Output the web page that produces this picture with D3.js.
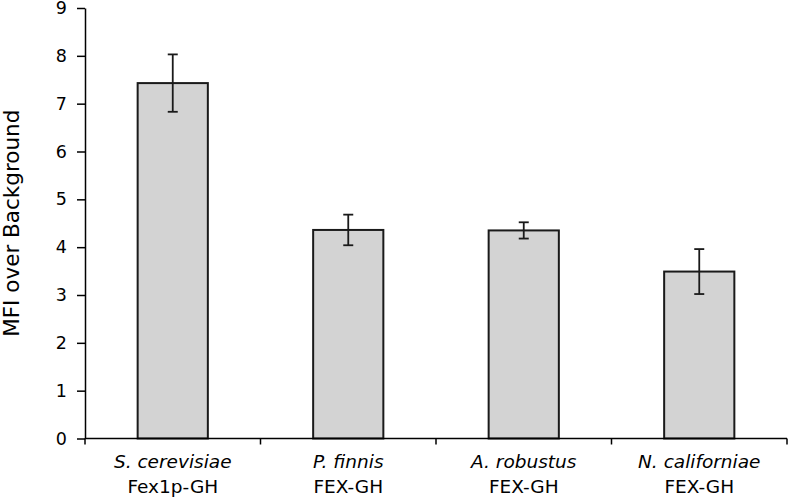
<!DOCTYPE html>
<html>
<head>
<meta charset="utf-8">
<script src="https://d3js.org/d3.v7.min.js"></script>
<style>
html, body { margin: 0; padding: 0; background: #fff; }
svg { display: block; }
text { font-family: "DejaVu Sans", Verdana, sans-serif; fill: #000; }
</style>
</head>
<body>
<svg id="chart" width="792" height="498"></svg>
<script>
const species = ["S. cerevisiae", "P. finnis", "A. robustus", "N. californiae"];
const constructs = ["Fex1p-GH", "FEX-GH", "FEX-GH", "FEX-GH"];
const values = [7.43, 4.36, 4.35, 3.49];
const errors = [0.60, 0.32, 0.17, 0.47];
const yTicks = [0, 1, 2, 3, 4, 5, 6, 7, 8, 9];
const yTitle = "MFI over Background";

const svg = d3.select("#chart");
const margin = { left: 85, right: 5, top: 8, bottom: 59.5 };
const W = 792, H = 498;

const x = d3.scaleBand().domain(d3.range(species.length))
  .range([margin.left, W - margin.right]).paddingInner(0.6).paddingOuter(0.3);
const band = d3.scaleBand().domain(d3.range(species.length))
  .range([margin.left, W - margin.right]).padding(0);
const y = d3.scaleLinear().domain([0, 9]).range([H - margin.bottom, margin.top]);

// bars
svg.append("g").selectAll("rect").data(values).join("rect")
  .attr("x", (d, i) => x(i))
  .attr("y", d => y(d))
  .attr("width", x.bandwidth())
  .attr("height", d => y(0) - y(d))
  .attr("fill", "#d3d3d3")
  .attr("stroke", "#1a1a1a")
  .attr("stroke-width", 2);

// error bars
const eb = svg.append("g").attr("stroke", "#1a1a1a").attr("stroke-width", 1.8);
values.forEach((v, i) => {
  const cx = x(i) + x.bandwidth() / 2;
  eb.append("line").attr("x1", cx).attr("x2", cx).attr("y1", y(v + errors[i])).attr("y2", y(v - errors[i]));
  eb.append("line").attr("x1", cx - 5).attr("x2", cx + 5).attr("y1", y(v + errors[i])).attr("y2", y(v + errors[i]));
  eb.append("line").attr("x1", cx - 5).attr("x2", cx + 5).attr("y1", y(v - errors[i])).attr("y2", y(v - errors[i]));
});

// y axis
const yAxis = svg.append("g").attr("transform", `translate(${margin.left},0)`)
  .call(d3.axisLeft(y).tickValues(yTicks).tickFormat(d3.format("d")).tickSizeInner(8).tickSizeOuter(0).tickPadding(10));
yAxis.selectAll("text").style("font-size", "17.5px").attr("fill", "#000");
yAxis.selectAll("line, path").attr("stroke", "#000").attr("stroke-width", 1.5);

// x axis with ticks at band boundaries
const bounds = d3.range(species.length + 1).map(i => i < species.length ? band(i) : band(species.length - 1) + band.bandwidth());
const xg = svg.append("g");
xg.append("line").attr("x1", margin.left).attr("x2", W - margin.right)
  .attr("y1", y(0)).attr("y2", y(0)).attr("stroke", "#000").attr("stroke-width", 1.5);
xg.selectAll("line.tk").data(bounds).join("line").attr("class", "tk")
  .attr("x1", d => d).attr("x2", d => d).attr("y1", y(0)).attr("y2", y(0) + 6)
  .attr("stroke", "#000").attr("stroke-width", 1.5);

const labels = svg.append("g");
species.forEach((s, i) => {
  const cx = band(i) + band.bandwidth() / 2;
  labels.append("text").attr("x", cx).attr("y", 468).attr("text-anchor", "middle")
    .style("font-size", "18.5px").style("font-style", "italic").text(s);
  labels.append("text").attr("x", cx).attr("y", 493).attr("text-anchor", "middle")
    .style("font-size", "18.5px").text(constructs[i]);
});

// y title
svg.append("text")
  .attr("transform", `translate(19,${(y(0) + y(9)) / 2}) rotate(-90)`)
  .attr("text-anchor", "middle")
  .style("font-size", "21.5px")
  .text(yTitle);
</script>
</body>
</html>
